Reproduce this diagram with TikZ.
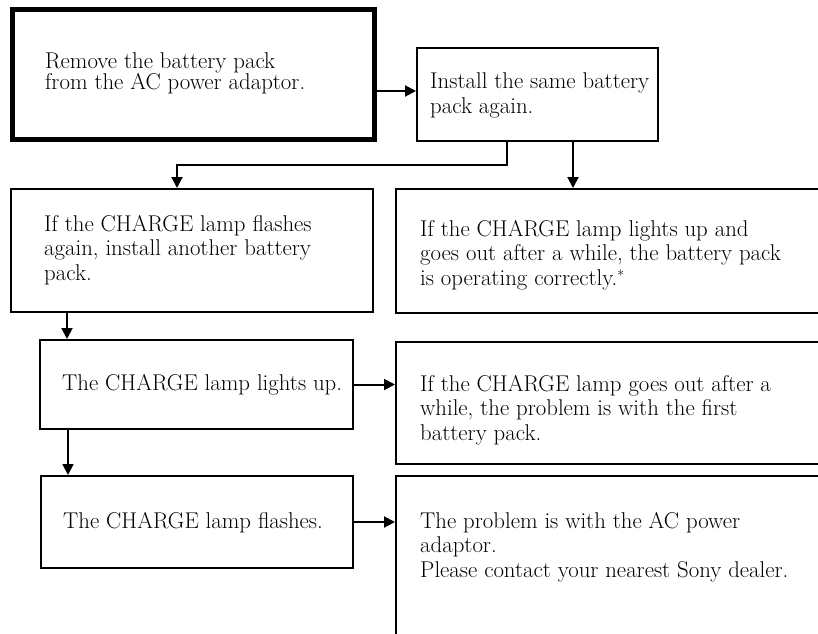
\documentclass[tikz,border=0pt]{standalone}
\usetikzlibrary{arrows.meta}
\begin{document}
\begin{tikzpicture}[x=1pt,y=-1pt,
  box/.style={draw, line width=2pt, inner sep=0pt, anchor=north west},
  thickbox/.style={box, line width=4.5pt},
  txt/.style={anchor=base west, inner sep=0pt, align=left, font=\fontsize{22.8}{24.3}\selectfont},
  arr/.style={line width=2pt, -{Triangle[length=11pt,width=11pt]}}]
\useasboundingbox (0,0) rectangle (818,633);
\clip (0,0) rectangle (818,633);
% boxes
\node[thickbox, minimum width=362pt, minimum height=130pt] (b1) at (10,7) {};
\node[box, minimum width=241pt, minimum height=93pt] (b2) at (416,47) {};
\node[box, minimum width=362pt, minimum height=123pt] (b3) at (10,188) {};
\node[box, minimum width=440pt, minimum height=124pt] (b4) at (395,188) {};
\node[box, minimum width=313pt, minimum height=89pt] (b5) at (39,339) {};
\node[box, minimum width=440pt, minimum height=122pt] (b6) at (395,341) {};
\node[box, minimum width=312pt, minimum height=92pt] (b7) at (40,475) {};
\node[box, minimum width=440pt, minimum height=200pt] (b8) at (395,475) {};
% texts (anchor = baseline of the last line)
\node[txt, font=\fontsize{22.8}{21.5}\selectfont] (t1) at (45,89.5) {Remove the battery pack\\from the AC power adaptor.};
\node[txt] (t2) at (430,113) {Install the same battery\\pack again.};
\node[txt] (t3) at (44,280) {If the CHARGE lamp flashes\\again, install another battery\\pack.};
\node[txt] (t4) at (420,285) {If the CHARGE lamp lights up and\\goes out after a while, the battery pack\\is operating correctly.\raisebox{5pt}{\fontsize{14}{14}\selectfont*}};
\node[txt] (t5) at (62,390) {The CHARGE lamp lights up.};
\node[txt] (t6) at (420,440) {If the CHARGE lamp goes out after a\\while, the problem is with the first\\battery pack.};
\node[txt] (t7) at (63,528) {The CHARGE lamp flashes.};
\node[txt] (t8) at (420,577) {The problem is with the AC power\\adaptor.\\Please contact your nearest Sony dealer.};
% connectors
\coordinate (a12) at ([yshift=3.5pt]b2.west);
\draw[arr] (b1.east |- a12) -- (a12);
\coordinate (s23) at ([xshift=91pt]b2.south west);
\draw[arr] (s23) -- ++(0,23) -| ([xshift=-15pt]b3.north);
\coordinate (s24) at ([xshift=35.5pt]b2.south);
\draw[arr] (s24) -- (s24 |- b4.north);
\coordinate (s35) at ([xshift=57pt]b3.south west);
\draw[arr] (s35) -- (s35 |- b5.north);
\coordinate (s57) at ([xshift=29pt]b5.south west);
\draw[arr] (s57) -- (s57 |- b7.north);
\draw[arr] (b5.east) -- (b5.east -| b6.west);
\draw[arr] (b7.east) -- (b7.east -| b8.west);
\end{tikzpicture}
\end{document}
